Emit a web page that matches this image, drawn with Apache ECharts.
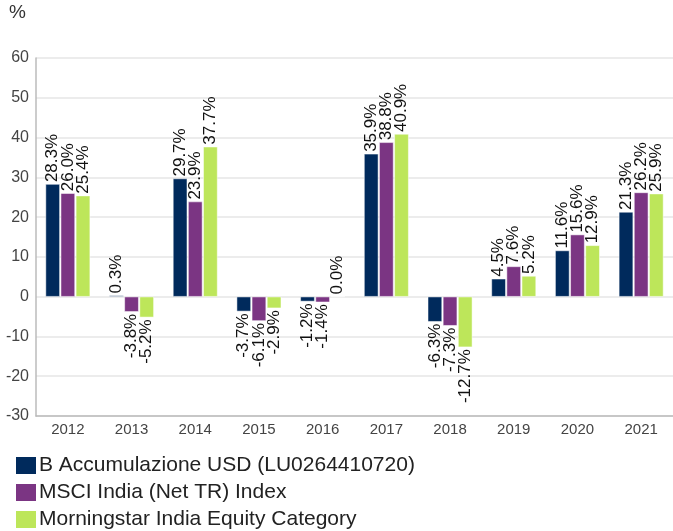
<!DOCTYPE html>
<html>
<head>
<meta charset="utf-8">
<script src="https://cdn.jsdelivr.net/npm/echarts@6/dist/echarts.min.js"></script>
<style>
  html, body { margin: 0; padding: 0; background: #fff; }
  #chart { width: 673px; height: 531px; }
</style>
</head>
<body>
<div id="chart"></div>
<script>
const years = ['2012', '2013', '2014', '2015', '2016', '2017', '2018', '2019', '2020', '2021']
const fund = [28.3, 0.3, 29.7, -3.7, -1.2, 35.9, -6.3, 4.5, 11.6, 21.3]
const index = [26.0, -3.8, 23.9, -6.1, -1.4, 38.8, -7.3, 7.6, 15.6, 26.2]
const category = [25.4, -5.2, 37.7, -2.9, 0.0, 40.9, -12.7, 5.2, 12.9, 25.9]
const names = [
  'B Accumulazione USD (LU0264410720)',
  'MSCI India (Net TR) Index',
  'Morningstar India Equity Category'
]
const colors = ['#002a5c', '#7b3583', '#bde65a']

const font = 'Liberation Sans, Arial, sans-serif'

// negative bars get their label underneath, reading downwards
const toData = (values) => values.map(v => ({
  value: v,
  label: v < 0
    ? { position: 'bottom', align: 'right' }
    : { position: 'top', align: 'left' }
}))

const makeSeries = (name, values, color) => ({
  name,
  type: 'bar',
  data: toData(values),
  barGap: '6%',
  barCategoryGap: '30%',
  itemStyle: { color, borderColor: '#fff', borderWidth: 0.5 },
  label: {
    show: true,
    rotate: 90,
    verticalAlign: 'middle',
    distance: 2,
    fontFamily: font,
    fontSize: 17,
    color: '#111',
    formatter: p => p.value.toFixed(1) + '%'
  }
})

const chart = echarts.init(document.getElementById('chart'))
chart.setOption({
  animation: false,
  textStyle: { fontFamily: font },
  graphic: [{
    type: 'text',
    left: 9,
    top: 3,
    style: { text: '%', fontFamily: font, fontSize: 19, fill: '#333' }
  }],
  legend: {
    orient: 'vertical',
    left: 14,
    top: 455,
    height: 80,
    padding: 0,
    itemWidth: 22,
    itemHeight: 19,
    itemGap: 6,
    icon: 'rect',
    textStyle: { fontFamily: font, fontSize: 21, color: '#222', padding: [0, 0, 0, -3] },
    data: names
  },
  grid: { left: 36, top: 58, width: 644, height: 358 },
  xAxis: {
    type: 'category',
    data: years,
    axisTick: { show: false },
    axisLine: { onZero: false, lineStyle: { color: '#bbb', width: 1.5 } },
    axisLabel: { fontFamily: font, fontSize: 15, color: '#444', margin: 6 }
  },
  yAxis: {
    type: 'value',
    min: -30,
    max: 60,
    interval: 10,
    axisLine: { show: true, lineStyle: { color: '#bbb', width: 1.5 } },
    axisTick: { show: false },
    splitLine: { lineStyle: { color: '#e6e6e6', width: 1.5 } },
    axisLabel: { fontFamily: font, fontSize: 16, color: '#444', margin: 7 }
  },
  series: [
    makeSeries(names[0], fund, colors[0]),
    makeSeries(names[1], index, colors[1]),
    makeSeries(names[2], category, colors[2])
  ]
})
</script>
</body>
</html>
